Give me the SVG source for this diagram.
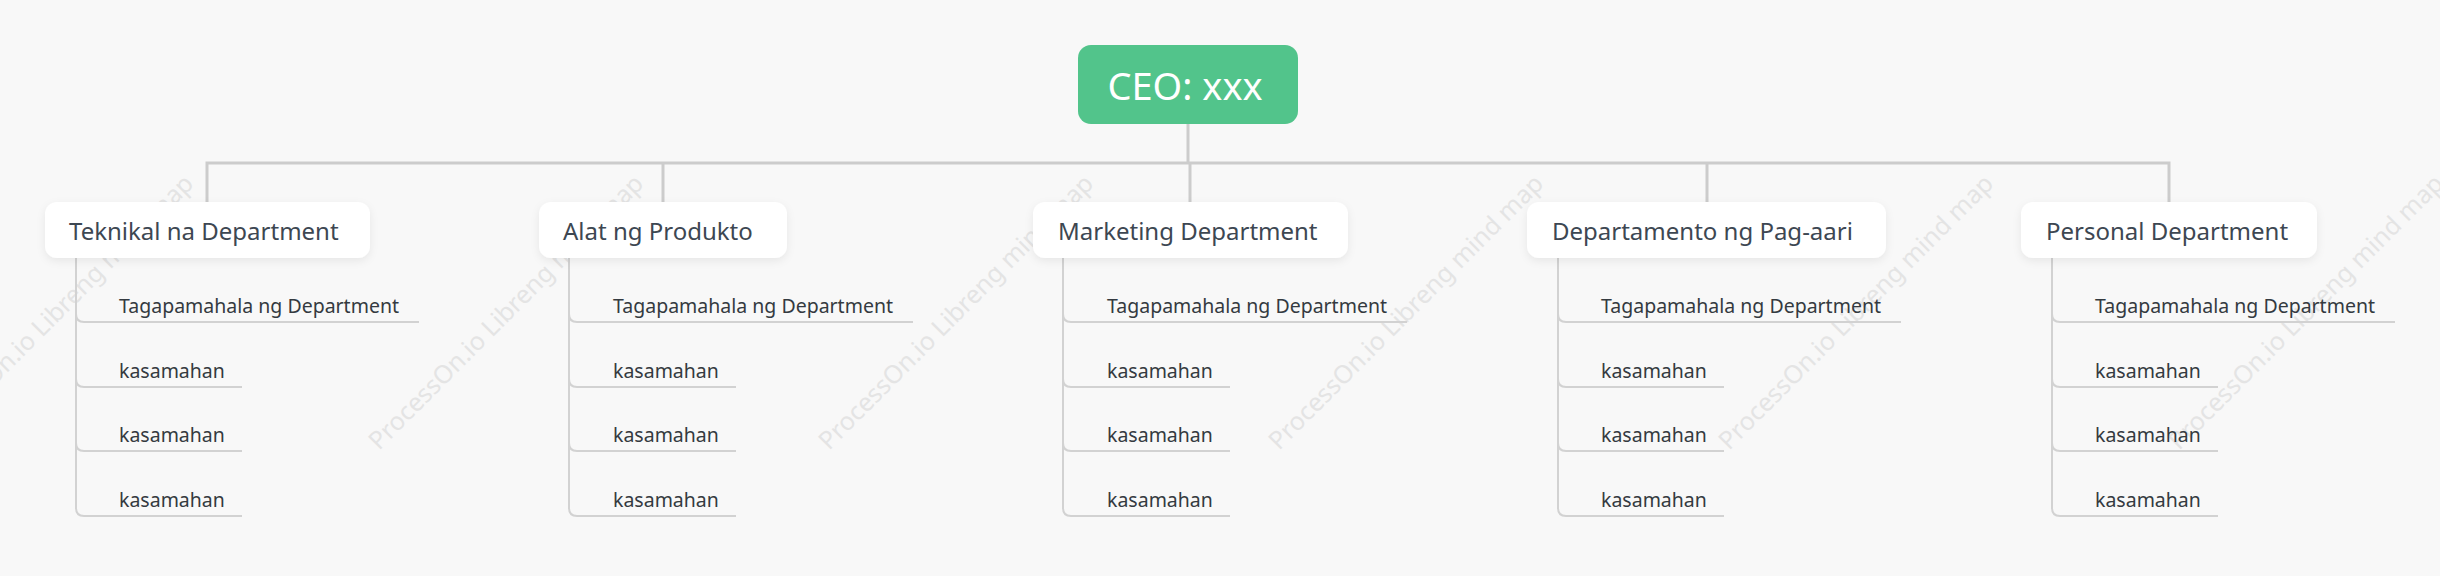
<svg xmlns="http://www.w3.org/2000/svg" width="2440" height="576" viewBox="0 0 2440 576">
<defs>
<filter id="sh" x="-10%" y="-30%" width="120%" height="170%">
<feDropShadow dx="0" dy="3" stdDeviation="4" flood-color="#000" flood-opacity="0.07"/>
</filter>
<style>
.wm{font-family:"Noto Sans","Open Sans",sans-serif;font-size:25px;fill:#e4e4e4;text-anchor:middle}
.main{fill:none;stroke:#cccccc;stroke-width:3}
.sub{fill:none;stroke:#d2d2d2;stroke-width:2}
.box{fill:#ffffff;filter:url(#sh)}
.dt{font-family:"Noto Sans","Open Sans",sans-serif;font-size:24px;fill:#3d4752}
.ct{font-family:"Noto Sans","Open Sans",sans-serif;font-size:19.5px;fill:#343a40}
.ceo{font-family:"Noto Sans","Open Sans",sans-serif;font-size:38px;fill:#ffffff;text-anchor:middle}
</style>
</defs>
<rect x="0" y="0" width="2440" height="576" fill="#f8f8f8"/>
<g id="watermarks">
<text class="wm" transform="translate(62,318) rotate(-45)">ProcessOn.io Libreng mind map</text>
<text class="wm" transform="translate(512,318) rotate(-45)">ProcessOn.io Libreng mind map</text>
<text class="wm" transform="translate(962,318) rotate(-45)">ProcessOn.io Libreng mind map</text>
<text class="wm" transform="translate(1412,318) rotate(-45)">ProcessOn.io Libreng mind map</text>
<text class="wm" transform="translate(1862,318) rotate(-45)">ProcessOn.io Libreng mind map</text>
<text class="wm" transform="translate(2312,318) rotate(-45)">ProcessOn.io Libreng mind map</text>
</g>
<g id="connectors">
<path class="main" d="M1188,124 V163"/>
<path class="main" d="M207,202 V163 H2169 V202"/>
<path class="main" d="M663,163 V202"/>
<path class="main" d="M1190,163 V202"/>
<path class="main" d="M1707,163 V202"/>
<path class="sub" d="M76,258 V314 Q76,322 84,322 H419 M76,258 V379 Q76,387 84,387 H242 M76,258 V443 Q76,451 84,451 H242 M76,258 V508 Q76,516 84,516 H242"/>
<path class="sub" d="M569,258 V314 Q569,322 577,322 H913 M569,258 V379 Q569,387 577,387 H736 M569,258 V443 Q569,451 577,451 H736 M569,258 V508 Q569,516 577,516 H736"/>
<path class="sub" d="M1063,258 V314 Q1063,322 1071,322 H1407 M1063,258 V379 Q1063,387 1071,387 H1230 M1063,258 V443 Q1063,451 1071,451 H1230 M1063,258 V508 Q1063,516 1071,516 H1230"/>
<path class="sub" d="M1558,258 V314 Q1558,322 1566,322 H1901 M1558,258 V379 Q1558,387 1566,387 H1724 M1558,258 V443 Q1558,451 1566,451 H1724 M1558,258 V508 Q1558,516 1566,516 H1724"/>
<path class="sub" d="M2052,258 V314 Q2052,322 2060,322 H2395 M2052,258 V379 Q2052,387 2060,387 H2218 M2052,258 V443 Q2052,451 2060,451 H2218 M2052,258 V508 Q2052,516 2060,516 H2218"/>
</g>
<g id="ceo">
<rect x="1078" y="45" width="220" height="79" rx="13" fill="#52c48b"/>
<text class="ceo" x="1185" y="100">CEO: xxx</text>
</g>
<g id="dept1">
<rect class="box" x="45" y="202" width="325" height="56" rx="12"/>
<text class="dt" x="69" y="240">Teknikal na Department</text>
</g>
<g id="dept1-children">
<text class="ct" x="119" y="313">Tagapamahala ng Department</text>
<text class="ct" x="119" y="378">kasamahan</text>
<text class="ct" x="119" y="442">kasamahan</text>
<text class="ct" x="119" y="507">kasamahan</text>
</g>
<g id="dept2">
<rect class="box" x="539" y="202" width="248" height="56" rx="12"/>
<text class="dt" x="563" y="240">Alat ng Produkto</text>
</g>
<g id="dept2-children">
<text class="ct" x="613" y="313">Tagapamahala ng Department</text>
<text class="ct" x="613" y="378">kasamahan</text>
<text class="ct" x="613" y="442">kasamahan</text>
<text class="ct" x="613" y="507">kasamahan</text>
</g>
<g id="dept3">
<rect class="box" x="1033" y="202" width="315" height="56" rx="12"/>
<text class="dt" x="1058" y="240">Marketing Department</text>
</g>
<g id="dept3-children">
<text class="ct" x="1107" y="313">Tagapamahala ng Department</text>
<text class="ct" x="1107" y="378">kasamahan</text>
<text class="ct" x="1107" y="442">kasamahan</text>
<text class="ct" x="1107" y="507">kasamahan</text>
</g>
<g id="dept4">
<rect class="box" x="1527" y="202" width="359" height="56" rx="12"/>
<text class="dt" x="1552" y="240">Departamento ng Pag-aari</text>
</g>
<g id="dept4-children">
<text class="ct" x="1601" y="313">Tagapamahala ng Department</text>
<text class="ct" x="1601" y="378">kasamahan</text>
<text class="ct" x="1601" y="442">kasamahan</text>
<text class="ct" x="1601" y="507">kasamahan</text>
</g>
<g id="dept5">
<rect class="box" x="2021" y="202" width="296" height="56" rx="12"/>
<text class="dt" x="2046" y="240">Personal Department</text>
</g>
<g id="dept5-children">
<text class="ct" x="2095" y="313">Tagapamahala ng Department</text>
<text class="ct" x="2095" y="378">kasamahan</text>
<text class="ct" x="2095" y="442">kasamahan</text>
<text class="ct" x="2095" y="507">kasamahan</text>
</g>
</svg>
